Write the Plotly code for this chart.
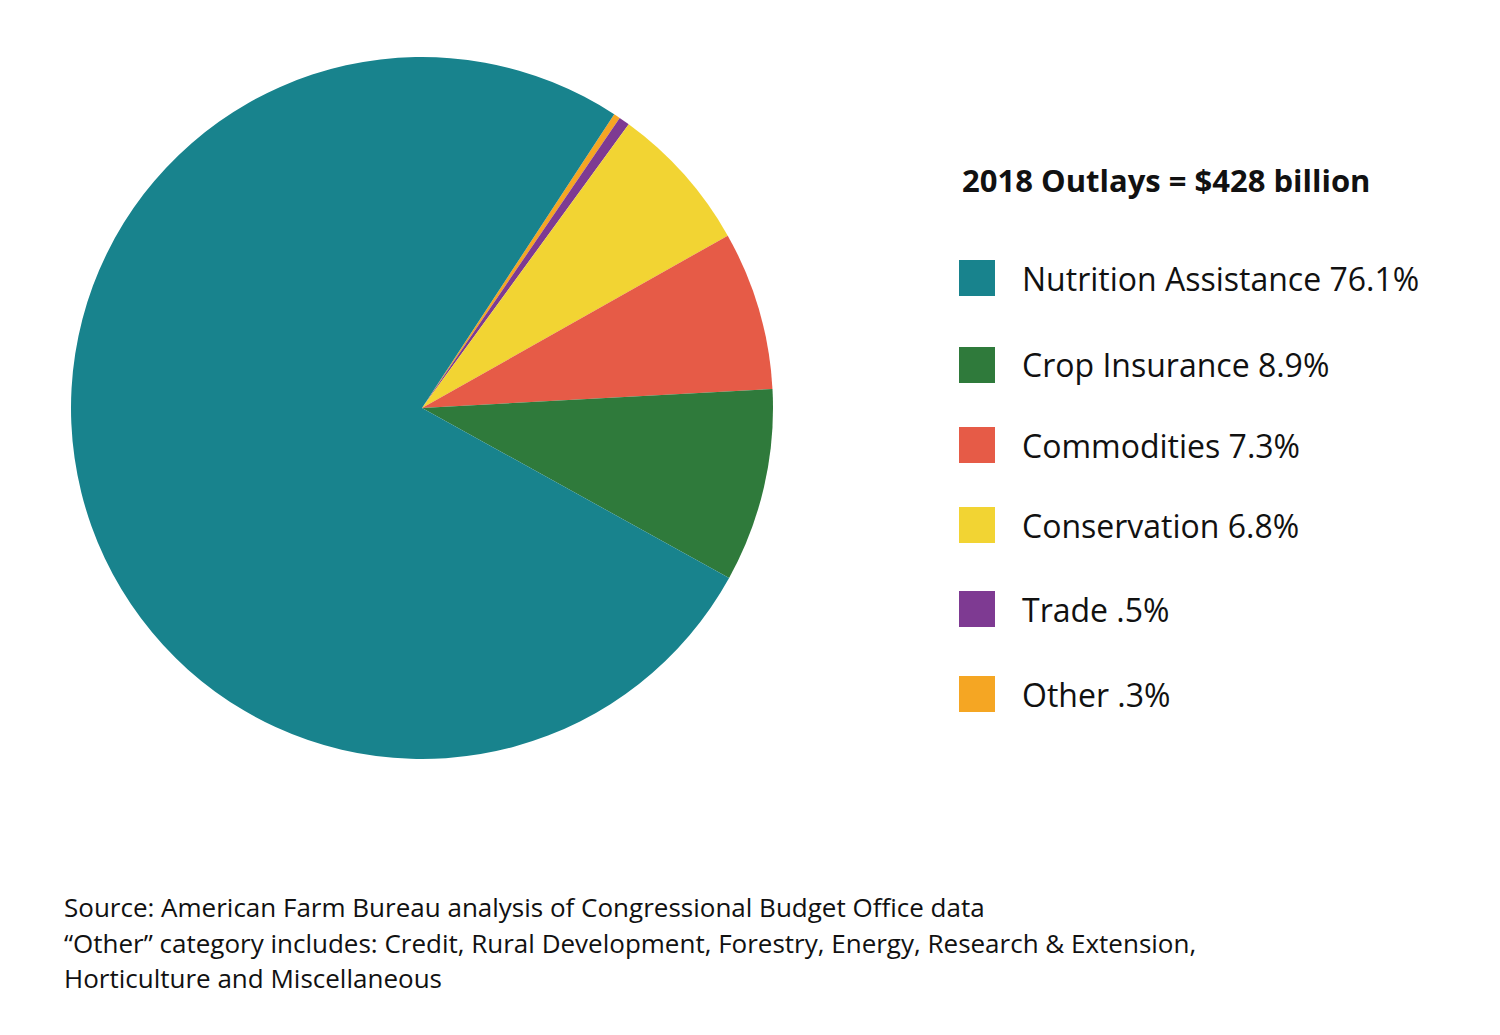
import plotly.graph_objects as go

labels = ["Other", "Trade", "Conservation", "Commodities", "Crop Insurance", "Nutrition Assistance"]
values = [0.3, 0.5, 6.8, 7.3, 8.9, 76.1]
pct_text = [".3%", ".5%", "6.8%", "7.3%", "8.9%", "76.1%"]
colors = ["#F5A623", "#7E3A92", "#F2D433", "#E65B47", "#2F7A3B", "#18838D"]

W, H = 1500, 1035
FONT = "Open Sans, Noto Sans, sans-serif"

fig = go.Figure(go.Pie(
    labels=labels, values=values, sort=False, direction="clockwise",
    rotation=33.2, marker=dict(colors=colors, line=dict(width=0)),
    textinfo="none", hoverinfo="label+percent",
    domain=dict(x=[63 / W, 765 / W], y=[1 - 751 / H, 1 - 49 / H]),
    showlegend=False,
))

annotations = [dict(x=952 / W, y=1 - 172 / H, xref="paper", yref="paper",
                    text="<b>2018 Outlays = $428 billion</b>", showarrow=False,
                    xanchor="left", yanchor="middle",
                    font=dict(family=FONT, size=31, color="#111"))]
shapes = []
rows_y = [270, 357, 437, 517, 601, 686]
order = list(reversed(range(len(labels))))
for yy, i in zip(rows_y, order):
    shapes.append(dict(type="rect", xref="paper", yref="paper",
                       x0=951 / W, x1=987 / W, y0=1 - (yy + 18) / H, y1=1 - (yy - 18) / H,
                       fillcolor=colors[i], line=dict(width=0)))
    annotations.append(dict(x=1012 / W, y=1 - yy / H, xref="paper", yref="paper",
                            text=f"{labels[i]} {pct_text[i]}", showarrow=False,
                            xanchor="left", yanchor="middle",
                            font=dict(family=FONT, size=32, color="#111")))

footer = ["Source: American Farm Bureau analysis of Congressional Budget Office data",
          "\u201cOther\u201d category includes: Credit, Rural Development, Forestry, Energy, Research & Extension,",
          "Horticulture and Miscellaneous"]
for k, line in enumerate(footer):
    annotations.append(dict(x=54 / W, y=1 - (899 + 35.5 * k) / H, xref="paper", yref="paper",
                            text=line, showarrow=False, xanchor="left", yanchor="middle",
                            font=dict(family=FONT, size=26, color="#111")))

fig.update_layout(width=W, height=H, margin=dict(l=0, r=0, t=0, b=0),
                  paper_bgcolor="white", plot_bgcolor="white",
                  annotations=annotations, shapes=shapes)

fig.write_html("out.html")
